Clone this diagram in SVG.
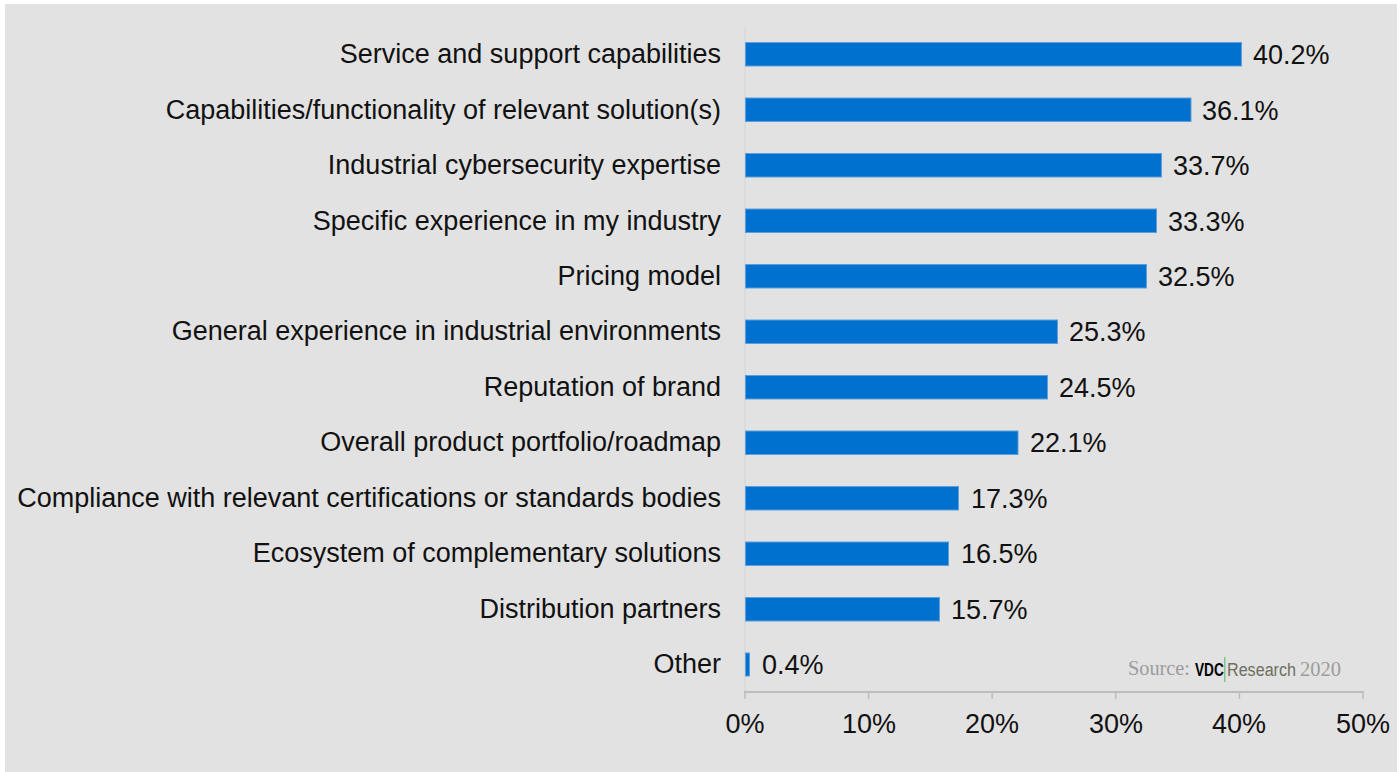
<svg xmlns="http://www.w3.org/2000/svg" width="1400" height="772" viewBox="0 0 1400 772">
<style>
text{font-family:"Liberation Sans",Arial,sans-serif;font-size:27px;fill:#111}
.c{text-anchor:end}
.m{text-anchor:middle}
.b{fill:#0071ce;stroke:#5c9fdc;stroke-width:1}
.ax{stroke:#bdbdbd;fill:none}
.src{font-family:"Liberation Serif",serif;font-size:20px;fill:#9c9c9c}
</style>
<rect width="1400" height="772" fill="#fff"/>
<rect x="5" y="4" width="1392" height="768" fill="#e2e2e2"/>
<g id="axis">
<path stroke="#d4d4d4" fill="none" stroke-width="1" d="M745 27V692"/>
<path class="ax" stroke-width="2" d="M744 692H1364"/>
<path class="ax" stroke-width="1.500" d="M745 692V699M868.600 692V699M992.200 692V699M1115.800 692V699M1239.400 692V699M1363 692V699"/>
<text class="m" x="745" y="733">0%</text><text class="m" x="869" y="733">10%</text><text class="m" x="992" y="733">20%</text><text class="m" x="1116" y="733">30%</text><text class="m" x="1239" y="733">40%</text><text class="m" x="1363" y="733">50%</text>
</g>
<g id="row1"><text class="c" x="721" y="63">Service and support capabilities</text><rect class="b" x="745.500" y="42.500" width="496" height="23.500"/><text x="1253" y="64">40.2%</text></g>
<g id="row2"><text class="c" x="721" y="119">Capabilities/functionality of relevant solution(s)</text><rect class="b" x="745.500" y="98" width="445.500" height="23.500"/><text x="1202" y="120">36.1%</text></g>
<g id="row3"><text class="c" x="721" y="174">Industrial cybersecurity expertise</text><rect class="b" x="745.500" y="153.500" width="416" height="23.500"/><text x="1173" y="175">33.7%</text></g>
<g id="row4"><text class="c" x="721" y="230">Specific experience in my industry</text><rect class="b" x="745.500" y="209" width="411" height="23.500"/><text x="1168" y="231">33.3%</text></g>
<g id="row5"><text class="c" x="721" y="285">Pricing model</text><rect class="b" x="745.500" y="264.500" width="401" height="23.500"/><text x="1158" y="286">32.5%</text></g>
<g id="row6"><text class="c" x="721" y="340">General experience in industrial environments</text><rect class="b" x="745.500" y="320" width="312" height="23.500"/><text x="1069" y="341">25.3%</text></g>
<g id="row7"><text class="c" x="721" y="396">Reputation of brand</text><rect class="b" x="745.500" y="375.500" width="302" height="23.500"/><text x="1059" y="397">24.5%</text></g>
<g id="row8"><text class="c" x="721" y="451">Overall product portfolio/roadmap</text><rect class="b" x="745.500" y="431" width="272.500" height="23.500"/><text x="1030" y="452">22.1%</text></g>
<g id="row9"><text class="c" x="721" y="507">Compliance with relevant certifications or standards bodies</text><rect class="b" x="745.500" y="486.500" width="213" height="23.500"/><text x="971" y="508">17.3%</text></g>
<g id="row10"><text class="c" x="721" y="562">Ecosystem of complementary solutions</text><rect class="b" x="745.500" y="542" width="203" height="23.500"/><text x="961" y="563">16.5%</text></g>
<g id="row11"><text class="c" x="721" y="618">Distribution partners</text><rect class="b" x="745.500" y="597.500" width="194" height="23.500"/><text x="951" y="619">15.7%</text></g>
<g id="row12"><text class="c" x="721" y="673">Other</text><rect class="b" x="745.500" y="653" width="4" height="23"/><text x="762" y="674">0.4%</text></g>
<g id="source">
<text class="src" x="1128" y="675" textLength="62" lengthAdjust="spacingAndGlyphs">Source:</text>
<text transform="translate(1195 676) scale(.72 1)" style="font-size:19px;font-weight:bold;fill:#000">VDC</text>
<rect x="1224" y="657" width="1.500" height="25" fill="#7cc78f"/>
<text x="1227" y="676" style="font-size:18px;fill:#6d6f60" textLength="69" lengthAdjust="spacingAndGlyphs">Research</text>
<text class="src" x="1300" y="676" textLength="41" lengthAdjust="spacingAndGlyphs">2020</text>
</g>
</svg>
